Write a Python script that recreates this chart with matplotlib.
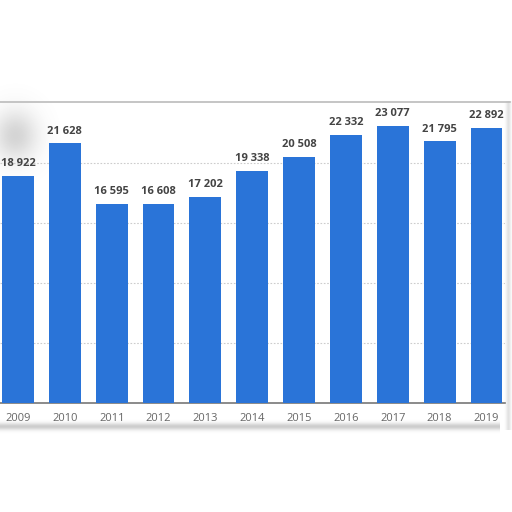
import matplotlib.pyplot as plt
import numpy as np

years = ["2009", "2010", "2011", "2012", "2013", "2014", "2015", "2016", "2017", "2018", "2019"]
values = [18922, 21628, 16595, 16608, 17202, 19338, 20508, 22332, 23077, 21795, 22892]
labels = ["18 922", "21 628", "16 595", "16 608", "17 202", "19 338",
          "20 508", "22 332", "23 077", "21 795", "22 892"]

plt.rcParams["font.family"] = ["Open Sans", "DejaVu Sans"]

fig = plt.figure(figsize=(5.12, 5.12), dpi=100)
W = 512.0

# soft shadows from the screenshot, drawn behind the chart
bg = fig.add_axes([0, 0, 1, 1], zorder=0)
yy, xx = np.mgrid[0:512, 0:512]
alpha = 0.35 * np.exp(-((yy - 426) / 3.5) ** 2) * (xx < 500)
alpha += 0.30 * np.exp(-(((xx - 15) / 22) ** 2 + ((yy - 135) / 25) ** 2))
alpha += 0.20 * np.exp(-((xx - 508) / 2.5) ** 2) * (yy > 100) * (yy < 430)
rgba = np.zeros((512, 512, 4))
rgba[..., :3] = 0.45
rgba[..., 3] = np.clip(alpha, 0, 1)
bg.imshow(rgba, extent=[0, 512, 512, 0], interpolation="bilinear")
bg.set_xlim(0, 512)
bg.set_ylim(512, 0)
bg.axis("off")

ax = fig.add_axes([0, (W - 403) / W, 505 / W, 300 / W], zorder=1)
ax.patch.set_alpha(0)

x = np.arange(len(years))
ax.bar(x, values, width=0.68, color="#2a74d8", zorder=3)
for xi, v, lab in zip(x, values, labels):
    ax.annotate(lab, (xi, v), xytext=(0, 5), textcoords="offset points",
                ha="center", va="bottom", fontsize=8, fontweight="bold",
                color="#444444", zorder=4)

ax.set_xlim(-0.384, 10.395)
ax.set_ylim(0, 25000)
ax.set_yticks([5000, 10000, 15000, 20000])
ax.yaxis.grid(True, linestyle=(0, (1.5, 1.5)), color="#cccccc", linewidth=0.8, zorder=0)
ax.set_yticklabels([])
ax.tick_params(axis="y", length=0)
ax.set_xticks(x)
ax.set_xticklabels(years, fontsize=8, color="#666666")
ax.tick_params(axis="x", length=0, pad=7)

for s in ["top", "right", "left"]:
    ax.spines[s].set_visible(False)
ax.spines["bottom"].set_color("#777777")
ax.spines["bottom"].set_linewidth(1.2)

# top border of the chart box
fig.add_artist(plt.Line2D([0, 510 / W], [1 - 102 / W, 1 - 102 / W], color="#bbbbbb", linewidth=1.2))

fig.savefig("out.png", dpi=100)
